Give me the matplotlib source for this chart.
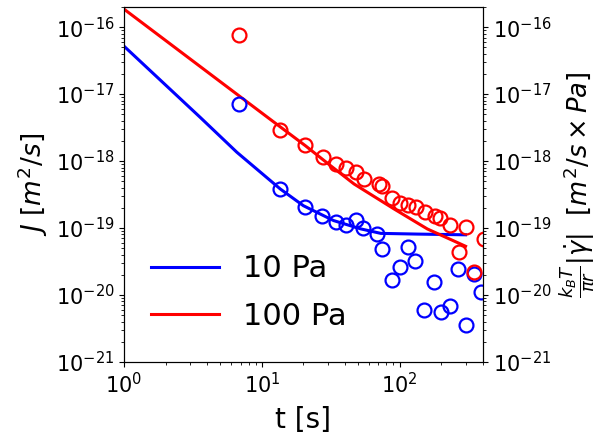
import matplotlib
matplotlib.use("Agg")
import matplotlib.pyplot as plt

# fitted curves
t_line_10 = [1, 3.57, 6.59, 13.6, 20.0, 33.1, 52.0, 72.8, 134.6, 300]
J_line_10 = [5.2e-17, 4.49e-18, 1.35e-18, 3.82e-19, 2.15e-19, 1.29e-19, 9.7e-20, 8.3e-20, 8.1e-20, 7.9e-20]
t_line_100 = [1, 11.0, 20.7, 31.5, 46.6, 91.0, 158.5, 300]
J_line_100 = [1.86e-16, 4.49e-18, 1.69e-18, 8.51e-19, 4.54e-19, 1.92e-19, 9.66e-20, 5.33e-20]

# measured points (right axis quantity)
t_pts_10 = [6.78, 13.6, 20.5, 27.4, 34.3, 41, 47.9, 54, 68.8, 74.8, 88.5, 100,
            115.6, 129, 150, 178, 199, 232, 265, 302, 347, 388]
J_pts_10 = [7.0e-18, 3.8e-19, 2.08e-19, 1.49e-19, 1.22e-19, 1.11e-19, 1.33e-19,
            1.0e-19, 8.1e-20, 4.9e-20, 1.67e-20, 2.6e-20, 5.2e-20, 3.25e-20,
            6.0e-21, 1.58e-20, 5.6e-21, 6.8e-21, 2.44e-20, 3.5e-21, 2.05e-20, 1.1e-20]
t_pts_100 = [6.86, 13.6, 20.5, 27.7, 34.3, 41, 48.4, 55, 70.8, 74.8, 88.5, 100,
             115.6, 130.7, 152.8, 180.6, 195.5, 231, 267, 302, 347, 410]
J_pts_100 = [7.7e-17, 2.9e-18, 1.73e-18, 1.13e-18, 9.0e-19, 7.8e-19, 6.9e-19,
             5.4e-19, 4.5e-19, 4.2e-19, 2.8e-19, 2.4e-19, 2.2e-19, 2.04e-19,
             1.71e-19, 1.5e-19, 1.4e-19, 1.11e-19, 4.3e-20, 1.05e-19, 2.2e-20, 6.9e-20]

labels = ["10 Pa", "100 Pa"]
colors = ["blue", "red"]

fig = plt.figure(figsize=(5.99, 4.37), dpi=100)
ax = fig.add_subplot(111)
fig.subplots_adjust(left=0.207, right=0.806, bottom=0.172, top=0.984)

ax.plot(t_line_10, J_line_10, color=colors[0], lw=2.2, label=labels[0])
ax.plot(t_line_100, J_line_100, color=colors[1], lw=2.2, label=labels[1])
ax.set_xscale("log")
ax.set_yscale("log")
ax.set_xlim(1, 400)
ax.set_ylim(1e-21, 2e-16)
ax.set_xlabel("t [s]", fontsize=20, labelpad=7)
ax.set_ylabel(r"$J\ [m^2/s]$", fontsize=19)
ax.tick_params(labelsize=15)
ax.legend(loc="lower left", frameon=False, fontsize=22, labelspacing=0.6,
          handlelength=2.2, bbox_to_anchor=(0.0, 0.01))

ax2 = ax.twinx()
ax2.plot(t_pts_10, J_pts_10, "o", mfc="none", mec=colors[0], ms=10, mew=1.6)
ax2.plot(t_pts_100, J_pts_100, "o", mfc="none", mec=colors[1], ms=10, mew=1.6)
ax2.set_yscale("log")
ax2.set_ylim(1e-21, 2e-16)
ax2.set_xlim(1, 400)
ax2.tick_params(labelsize=15)
ax2.set_ylabel(r"$\frac{k_BT}{\pi r}|\dot{\gamma}|$  $[m^2/s\times Pa]$", fontsize=18.5)

fig.savefig("out.png", dpi=100)
